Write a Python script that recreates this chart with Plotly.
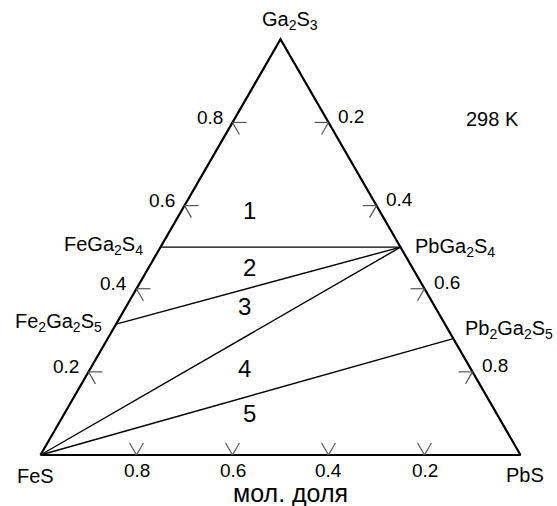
import math
import plotly.graph_objects as go

# ---------------- data (mole fractions) ----------------
vertex_keys = ["FeS", "PbS", "Ga2S3"]
vertex_labels = ["FeS", "PbS", "Ga<sub>2</sub>S<sub>3</sub>"]
vertex_pbs = [0.0, 1.0, 0.0]
vertex_ga2s3 = [0.0, 0.0, 1.0]

compound_keys = ["FeGa2S4", "Fe2Ga2S5", "PbGa2S4", "Pb2Ga2S5"]
compound_labels = ["FeGa<sub>2</sub>S<sub>4</sub>", "Fe<sub>2</sub>Ga<sub>2</sub>S<sub>5</sub>",
                   "PbGa<sub>2</sub>S<sub>4</sub>", "Pb<sub>2</sub>Ga<sub>2</sub>S<sub>5</sub>"]
compound_pbs = [0.0, 0.0, 0.5, 0.72]
compound_ga2s3 = [0.5, 0.315, 0.5, 0.28]

tie_start = ["FeGa2S4", "Fe2Ga2S5", "FeS", "FeS"]
tie_end = ["PbGa2S4", "PbGa2S4", "PbGa2S4", "Pb2Ga2S5"]

tick_values = [0.2, 0.4, 0.6, 0.8]
tick_labels = ["0.2", "0.4", "0.6", "0.8"]

region_labels = ["1", "2", "3", "4", "5"]
region_pbs = [0.141, 0.210, 0.246, 0.320, 0.386]
region_ga2s3 = [0.589, 0.450, 0.358, 0.209, 0.099]

temperature_label = "298 K"
axis_title = "мол. доля"

# ---------------- helpers ----------------
S3 = math.sqrt(3) / 2


def xy(pbs, ga):
    return pbs + ga / 2.0, ga * S3


pts = {}
for k, p, g in zip(vertex_keys, vertex_pbs, vertex_ga2s3):
    pts[k] = (p, g)
for k, p, g in zip(compound_keys, compound_pbs, compound_ga2s3):
    pts[k] = (p, g)

FONT = "Liberation Sans, Arial, sans-serif"
fig = go.Figure()

# triangle outline
tri = ["FeS", "PbS", "Ga2S3", "FeS"]
tx, ty = zip(*[xy(*pts[k]) for k in tri])
fig.add_trace(go.Scatter(x=tx, y=ty, mode="lines",
                         line=dict(color="black", width=2.2), hoverinfo="skip"))

# tie lines
lx, ly = [], []
for a, b in zip(tie_start, tie_end):
    xa, ya = xy(*pts[a])
    xb, yb = xy(*pts[b])
    lx += [xa, xb, None]
    ly += [ya, yb, None]
fig.add_trace(go.Scatter(x=lx, y=ly, mode="lines",
                         line=dict(color="black", width=1.4), hoverinfo="skip"))

# tick marks (chevrons along grid directions)
L = 0.029
kx, ky = [], []


def seg(p0, g0, p1, g1):
    x0, y0 = xy(p0, g0)
    x1, y1 = xy(p1, g1)
    kx.extend([x0, x1, None])
    ky.extend([y0, y1, None])


for v in tick_values:
    p = 1 - v
    seg(p, 0, p, L)
    seg(p, 0, p - L, L)
    seg(0, v, L, v)
    seg(0, v, L, v - L)
    seg(v, 1 - v, v - L, 1 - v)
    seg(v, 1 - v, v, 1 - v - L)
fig.add_trace(go.Scatter(x=kx, y=ky, mode="lines",
                         line=dict(color="#555555", width=1.2), hoverinfo="skip"))

ann = []


def add(text, x, y, size=20, xanchor="center", yanchor="middle", xshift=0, yshift=0,
        xref="x", yref="y"):
    ann.append(dict(text=text, x=x, y=y, xref=xref, yref=yref, showarrow=False,
                    xanchor=xanchor, yanchor=yanchor, xshift=xshift, yshift=yshift,
                    font=dict(family=FONT, size=size, color="black")))


# tick labels
for v, t in zip(tick_values, tick_labels):
    bx, by = xy(1 - v, 0)
    add(t, bx, by, size=19, yshift=-15)
    lx_, ly_ = xy(0, v)
    add(t, lx_, ly_, size=19, xanchor="right", xshift=-8, yshift=5)
    rx, ry = xy(v, 1 - v)
    add(t, rx, ry, size=19, xanchor="left", xshift=7, yshift=6)

# vertex labels
vx, vy = xy(*pts["Ga2S3"])
add(vertex_labels[2], vx, vy, xshift=9, yshift=19)
vx, vy = xy(*pts["FeS"])
add(vertex_labels[0], vx, vy, xshift=-5, yshift=-21)
vx, vy = xy(*pts["PbS"])
add(vertex_labels[1], vx, vy, xshift=4, yshift=-20)

# compound labels
shifts = {"FeGa2S4": ("right", -16, 2), "Fe2Ga2S5": ("right", -12, 2),
          "PbGa2S4": ("left", 12, 0), "Pb2Ga2S5": ("left", 10, 9)}
for k, lab in zip(compound_keys, compound_labels):
    cx, cy = xy(*pts[k])
    xa, xs, ys = shifts[k]
    add(lab, cx, cy, xanchor=xa, xshift=xs, yshift=ys)

# region numbers
for lab, p, g in zip(region_labels, region_pbs, region_ga2s3):
    rx, ry = xy(p, g)
    add(lab, rx, ry, size=24)

W, H = 557, 506


def paper(px, py):
    return px / W, 1 - py / H


px_, py_ = paper(492, 119)
add(temperature_label, px_, py_, xref="paper", yref="paper")
px_, py_ = paper(290, 493)
add(axis_title, px_, py_, size=25, xref="paper", yref="paper")

# pixel mapping: FeS at (40.5, 455), side = 480 px
SCALE = 480.0
OX, OY = 40.5, 455.0
fig.update_layout(
    width=W, height=H, autosize=False,
    margin=dict(l=0, r=0, t=0, b=0),
    paper_bgcolor="white", plot_bgcolor="white",
    showlegend=False,
    xaxis=dict(visible=False, range=[-OX / SCALE, (W - OX) / SCALE], fixedrange=True),
    yaxis=dict(visible=False, range=[(OY - H) / SCALE, OY / SCALE], fixedrange=True),
    annotations=ann,
)

fig.write_html("out.html",
               config={"displayModeBar": False, "staticPlot": True},
               post_script="document.body.style.margin='0px';document.body.style.overflow='hidden';")
